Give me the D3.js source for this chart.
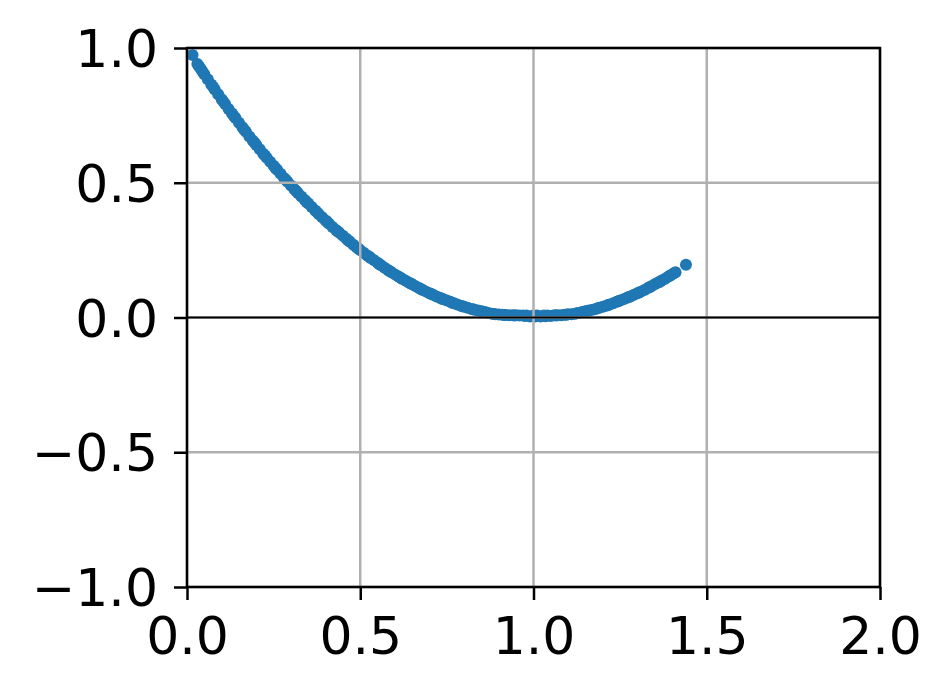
<!DOCTYPE html>
<html>
<head>
<meta charset="utf-8">
<script src="https://cdn.jsdelivr.net/npm/d3@7"></script>
<style>
  body { margin: 0; background: #fff; }
  text { font-family: "DejaVu Sans", sans-serif; }
</style>
</head>
<body>
<svg id="chart" width="952" height="695"></svg>
<script>
// values
const xs = [0.016, 0.03, 0.04, 0.05, 0.07, 0.08, 0.10, 0.11, 0.13, 0.14, 0.16, 0.17, 0.19, 0.20,
  0.22, 0.23, 0.25, 0.26, 0.28, 0.29, 0.31, 0.32, 0.34, 0.35, 0.37, 0.38, 0.40, 0.41, 0.43, 0.44,
  0.46, 0.47, 0.49, 0.50, 0.52, 0.53, 0.55, 0.56, 0.58, 0.59, 0.61, 0.62, 0.64, 0.65, 0.67, 0.68,
  0.70, 0.71, 0.73, 0.74, 0.76, 0.77, 0.79, 0.80, 0.82, 0.83, 0.85, 0.86, 0.88, 0.89, 0.91, 0.92,
  0.94, 0.95, 0.97, 0.98, 1.00, 1.01, 1.03, 1.04, 1.06, 1.07, 1.09, 1.10, 1.12, 1.13, 1.15, 1.16,
  1.18, 1.19, 1.21, 1.22, 1.24, 1.25, 1.27, 1.28, 1.30, 1.31, 1.33, 1.34, 1.36, 1.37, 1.39, 1.40,
  1.41, 1.44,
  0.035, 0.045, 0.06, 0.075, 0.09, 0.105, 0.12, 0.135, 0.15, 0.165, 0.18, 0.195, 0.21, 0.225,
  0.24, 0.255, 0.27, 0.285, 0.30, 0.315, 0.33, 0.345, 0.36, 0.375, 0.39, 0.405, 0.42, 0.435,
  0.45, 0.465, 0.48, 0.495, 0.51, 0.525, 0.54, 0.555, 0.57, 0.585, 0.60, 0.615, 0.63, 0.645,
  0.66, 0.675, 0.69, 0.705, 0.72, 0.735, 0.75, 0.765, 0.78, 0.795, 0.81, 0.825, 0.84, 0.855,
  0.87, 0.885, 0.90, 0.915, 0.93, 0.945, 0.96, 0.975, 0.99, 1.005, 1.02, 1.035, 1.05, 1.065,
  1.08, 1.095, 1.11, 1.125, 1.14, 1.155, 1.17, 1.185, 1.20, 1.215, 1.23, 1.245, 1.26, 1.275,
  1.29, 1.305, 1.32, 1.335, 1.35, 1.365, 1.38, 1.395, 1.405];
const ys = [0.974, 0.941, 0.922, 0.903, 0.865, 0.846, 0.810, 0.792, 0.757, 0.740, 0.706, 0.689, 0.656, 0.640,
  0.608, 0.593, 0.563, 0.548, 0.518, 0.504, 0.476, 0.462, 0.436, 0.423, 0.397, 0.384, 0.360, 0.348, 0.325, 0.314,
  0.292, 0.281, 0.260, 0.250, 0.230, 0.221, 0.203, 0.194, 0.176, 0.168, 0.152, 0.144, 0.130, 0.123, 0.109, 0.102,
  0.090, 0.084, 0.073, 0.068, 0.058, 0.053, 0.044, 0.040, 0.032, 0.029, 0.023, 0.020, 0.014, 0.012, 0.010, 0.009,
  0.008, 0.008, 0.007, 0.007, 0.007, 0.007, 0.007, 0.007, 0.008, 0.008, 0.010, 0.012, 0.014, 0.017, 0.023, 0.026,
  0.032, 0.036, 0.044, 0.048, 0.058, 0.063, 0.073, 0.078, 0.090, 0.096, 0.109, 0.116, 0.130, 0.137, 0.152, 0.160,
  0.168, 0.196,
  0.931, 0.912, 0.884, 0.856, 0.828, 0.801, 0.774, 0.748, 0.723, 0.697, 0.672, 0.648, 0.624, 0.601,
  0.578, 0.555, 0.533, 0.511, 0.490, 0.469, 0.449, 0.429, 0.410, 0.391, 0.372, 0.354, 0.336, 0.319,
  0.303, 0.286, 0.270, 0.255, 0.240, 0.226, 0.212, 0.198, 0.185, 0.172, 0.160, 0.148, 0.137, 0.126,
  0.116, 0.106, 0.096, 0.087, 0.078, 0.070, 0.063, 0.055, 0.048, 0.042, 0.036, 0.031, 0.026, 0.021,
  0.017, 0.013, 0.011, 0.009, 0.008, 0.007, 0.007, 0.006, 0.004, 0.004, 0.004, 0.005, 0.006, 0.007,
  0.008, 0.010, 0.012, 0.016, 0.020, 0.024, 0.029, 0.034, 0.040, 0.046, 0.053, 0.060, 0.068, 0.076,
  0.084, 0.093, 0.102, 0.112, 0.123, 0.133, 0.144, 0.156, 0.164];
const xTicks = [0.0, 0.5, 1.0, 1.5, 2.0];
const yTicks = [-1.0, -0.5, 0.0, 0.5, 1.0];

const svg = d3.select('#chart');
const plotLeft = 187, plotRight = 880, plotTop = 48, plotBottom = 587;
const blue = "#1f77b4";
const gridColor = "#b0b0b0";

const x = d3.scaleLinear().domain([0, 2]).range([plotLeft, plotRight]);
const y = d3.scaleLinear().domain([-1, 1]).range([plotBottom, plotTop]);

// points
svg.append("g")
    .selectAll("circle")
    .data(xs.map((v, i) => [v, ys[i]]))
    .enter().append("circle")
    .attr("cx", d => x(d[0]))
    .attr("cy", d => y(d[1]))
    .attr("r", 6)
    .attr("fill", blue);

// grid on top of the points, like matplotlib
const grid = svg.append("g");
grid.selectAll("line.gx")
    .data(xTicks)
    .enter().append("line")
    .attr("x1", d => x(d)).attr("x2", d => x(d))
    .attr("y1", plotTop).attr("y2", plotBottom)
    .attr("stroke", gridColor).attr("stroke-width", 2.5);
grid.selectAll("line.gy")
    .data(yTicks)
    .enter().append("line")
    .attr("y1", d => y(d)).attr("y2", d => y(d))
    .attr("x1", plotLeft).attr("x2", plotRight)
    .attr("stroke", gridColor).attr("stroke-width", 2.5);

// horizontal line at zero
svg.append("line")
    .attr("x1", plotLeft).attr("x2", plotRight)
    .attr("y1", y(0)).attr("y2", y(0))
    .attr("stroke", "#000").attr("stroke-width", 2);

// spines
svg.append("rect")
    .attr("x", plotLeft).attr("y", plotTop)
    .attr("width", plotRight - plotLeft).attr("height", plotBottom - plotTop)
    .attr("fill", "none").attr("stroke", "#000").attr("stroke-width", 2.5);

const fmt = d3.format(".1f");
const xAxis = svg.append("g")
    .attr("transform", `translate(0,${plotBottom})`)
    .call(d3.axisBottom(x).tickValues(xTicks).tickFormat(fmt).tickSize(13).tickPadding(14));
const yAxis = svg.append("g")
    .attr("transform", `translate(${plotLeft},0)`)
    .call(d3.axisLeft(y).tickValues(yTicks).tickFormat(fmt).tickSize(13).tickPadding(16));

[xAxis, yAxis].forEach(g => {
    g.select(".domain").remove();
    g.selectAll(".tick line").attr("stroke", "#000").attr("stroke-width", 2.5);
    g.selectAll(".tick text")
        .attr("fill", "#000")
        .style("font-size", "52px")
        .style("font-family", "DejaVu Sans");
});
yAxis.selectAll(".tick text").attr("dy", "0.36em");
xAxis.selectAll(".tick text").attr("dy", "0.76em");
</script>
</body>
</html>
